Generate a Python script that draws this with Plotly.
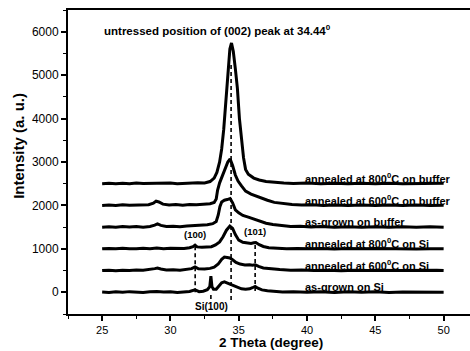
import plotly.graph_objects as go

# ---- data: (2-theta, plotted intensity incl. stacking offset) ----
as_grown_si = [(25, 5), (25.5, -5), (26, 10), (26.5, 0), (27, 15), (27.5, 5), (28, -5), (28.5, 10),
               (29, 20), (29.5, 5), (30, 10), (30.5, -5), (31, 10), (31.4, 20), (31.8, 55), (32.1, 15),
               (32.4, 25), (32.7, 60), (32.88, 130), (32.96, 370), (33.04, 130), (33.15, 70), (33.35, 70),
               (33.55, 150), (33.75, 220), (33.95, 240), (34.15, 215), (34.35, 185), (34.6, 150), (34.9, 110),
               (35.2, 80), (35.5, 70), (35.8, 80), (36.0, 105), (36.2, 135), (36.4, 95), (36.7, 55),
               (37.1, 35), (37.6, 20), (38.2, 5), (39, 15), (40, 0), (41, 10), (42, -5), (43, 10), (44, 0),
               (45, 10), (46, -5), (47, 5), (48, 0), (49, 10), (50, 0)]

annealed_600_si = [(25, 500), (25.5, 510), (26, 495), (26.5, 510), (27, 500), (27.5, 515), (28, 505),
                   (28.5, 520), (28.85, 545), (29.05, 560), (29.3, 535), (29.7, 515), (30.2, 520), (30.7, 505),
                   (31.2, 520), (31.55, 545), (31.8, 585), (32.05, 540), (32.5, 535), (32.9, 550), (33.2, 580),
                   (33.5, 650), (33.75, 760), (33.95, 810), (34.15, 800), (34.35, 790), (34.55, 750),
                   (34.8, 690), (35.1, 650), (35.45, 630), (35.8, 635), (36.0, 625), (36.2, 635), (36.45, 595),
                   (36.8, 560), (37.3, 540), (38, 525), (38.8, 510), (39.6, 515), (40.5, 500), (41.5, 510),
                   (42.5, 495), (43.5, 510), (44.5, 500), (45.5, 510), (46.5, 500), (47.5, 505), (48.5, 495),
                   (49.5, 505), (50, 500)]

annealed_800_si = [(25, 1000), (25.5, 1010), (26, 1000), (26.5, 1015), (27, 1005), (27.5, 1000), (28, 1015),
                   (28.5, 1005), (29, 1020), (29.5, 1005), (30, 1015), (30.5, 1005), (31, 1010), (31.4, 1025),
                   (31.65, 1050), (31.8, 1085), (31.95, 1045), (32.3, 1035), (32.7, 1040), (33.0, 1050),
                   (33.3, 1090), (33.6, 1160), (33.85, 1280), (34.1, 1430), (34.35, 1525), (34.55, 1470),
                   (34.75, 1330), (35.0, 1200), (35.3, 1150), (35.6, 1130), (35.9, 1125), (36.1, 1140),
                   (36.25, 1145), (36.5, 1095), (36.8, 1055), (37.2, 1025), (37.8, 1015), (38.5, 1000),
                   (39.3, 1010), (40.2, 1000), (41, 1010), (42, 995), (43, 1010), (44, 1000), (45, 1010),
                   (46, 1000), (47, 1005), (48, 995), (49, 1005), (50, 1000)]

as_grown_buffer = [(25, 1500), (25.5, 1510), (26, 1500), (26.5, 1515), (27, 1505), (27.5, 1515), (28, 1500),
                   (28.5, 1515), (28.85, 1545), (29.05, 1575), (29.3, 1540), (29.7, 1515), (30.2, 1520),
                   (30.7, 1510), (31.2, 1525), (31.7, 1530), (32.2, 1540), (32.7, 1555), (33.1, 1580),
                   (33.35, 1630), (33.5, 1780), (33.62, 1970), (33.75, 2080), (33.95, 2120), (34.15, 2135),
                   (34.37, 2160), (34.55, 2060), (34.75, 1900), (35.0, 1830), (35.3, 1770), (35.7, 1730),
                   (36.1, 1690), (36.5, 1640), (37.0, 1590), (37.5, 1560), (38.1, 1535), (38.8, 1515),
                   (39.5, 1520), (40.3, 1505), (41, 1515), (42, 1500), (43, 1510), (44, 1500), (45, 1510),
                   (46, 1500), (47, 1510), (48, 1500), (49, 1510), (50, 1500)]

annealed_600_buffer = [(25, 2000), (25.5, 2010), (26, 2000), (26.5, 2015), (27, 2005), (27.5, 2010),
                       (28, 2000), (28.4, 2015), (28.75, 2050), (28.95, 2100), (29.15, 2080), (29.45, 2030),
                       (29.9, 2010), (30.4, 2020), (30.9, 2005), (31.4, 2020), (31.9, 2015), (32.4, 2030),
                       (32.9, 2040), (33.2, 2070), (33.35, 2150), (33.45, 2350), (33.6, 2520), (33.8, 2680),
                       (34.0, 2850), (34.2, 3000), (34.37, 3070), (34.55, 2920), (34.75, 2700), (34.95, 2560),
                       (35.2, 2450), (35.5, 2330), (35.9, 2260), (36.3, 2210), (36.7, 2170), (37.1, 2120),
                       (37.6, 2070), (38.2, 2040), (38.9, 2020), (39.6, 2010), (40.4, 2015), (41.2, 2000),
                       (42, 2010), (43, 2000), (44, 2010), (45, 2000), (46, 2010), (47, 2000), (48, 2010),
                       (49, 2000), (50, 2005)]

annealed_800_buffer = [(25, 2500), (25.5, 2510), (26, 2500), (26.5, 2510), (27, 2500), (27.5, 2515),
                       (28, 2505), (28.5, 2510), (29, 2515), (29.5, 2505), (30, 2515), (30.5, 2500),
                       (31, 2510), (31.5, 2505), (32, 2520), (32.5, 2515), (32.9, 2550), (33.2, 2630),
                       (33.4, 2760), (33.6, 3000), (33.75, 3300), (33.9, 3750), (34.05, 4300), (34.2, 4950),
                       (34.35, 5600), (34.47, 5740), (34.6, 5550), (34.75, 5150), (34.9, 4700), (35.05, 4000),
                       (35.2, 3500), (35.35, 3100), (35.5, 2830), (35.7, 2720), (36.1, 2630), (36.5, 2585),
                       (37.0, 2550), (37.6, 2530), (38.3, 2515), (39, 2505), (40, 2515), (41, 2500),
                       (42, 2510), (43, 2500), (44, 2510), (45, 2500), (46, 2510), (47, 2500), (48, 2505),
                       (49, 2500), (50, 2510)]

series = [as_grown_si, annealed_600_si, annealed_800_si,
          as_grown_buffer, annealed_600_buffer, annealed_800_buffer]

series_labels = ["as-grown on Si", "annealed at 600<sup>0</sup>C on Si", "annealed at 800<sup>0</sup>C on Si",
                 "as-grown on buffer", "annealed at 600<sup>0</sup>C on buffer",
                 "annealed at 800<sup>0</sup>C on buffer"]
series_offsets = [0, 500, 1000, 1500, 2000, 2500]

# reference positions (2-theta) and their dashed-line extents
peak_002 = 34.44
peak_100 = 31.81
peak_101 = 36.2
peak_si = 32.96

x_ticks = [25, 30, 35, 40, 45, 50]
y_ticks = [0, 1000, 2000, 3000, 4000, 5000, 6000]

FONT = "Arial, Liberation Sans, sans-serif"

fig = go.Figure()

for data in series:
    fig.add_trace(go.Scatter(
        x=[p[0] for p in data], y=[p[1] for p in data],
        mode="lines", line=dict(color="black", width=3, shape="linear"),
        showlegend=False, hoverinfo="skip"))

dash_lines = [(peak_002, -180, 5300), (peak_100, 0, 1120), (peak_101, 30, 1150), (peak_si, -60, -230)]
for xv, y0, y1 in dash_lines:
    fig.add_trace(go.Scatter(
        x=[xv, xv], y=[y0, y1], mode="lines",
        line=dict(color="black", width=1.6, dash="4px,3px"),
        showlegend=False, hoverinfo="skip"))

annotations = []
for lab, off in zip(series_labels, series_offsets):
    annotations.append(dict(x=39.7, y=off + 130, xref="x", yref="y", text="<b>" + lab + "</b>",
                            showarrow=False, xanchor="left", yanchor="middle",
                            font=dict(family=FONT, size=11, color="black")))

annotations += [
    dict(x=25, y=6040, xref="x", yref="y",
         text="<b>untressed position of (002) peak at 34.44<sup>0</sup></b>",
         showarrow=False, xanchor="left", yanchor="middle",
         font=dict(family=FONT, size=11.5, color="black")),
    dict(x=peak_100, y=1340, xref="x", yref="y", text="<b>(100)</b>", showarrow=False,
         xanchor="center", yanchor="middle", font=dict(family=FONT, size=9.5, color="black")),
    dict(x=peak_101, y=1390, xref="x", yref="y", text="<b>(101)</b>", showarrow=False,
         xanchor="center", yanchor="middle", font=dict(family=FONT, size=9.5, color="black")),
    dict(x=33.0, y=-330, xref="x", yref="y", text="<b>Si(100)</b>", showarrow=False,
         xanchor="center", yanchor="middle", font=dict(family=FONT, size=10, color="black")),
    dict(x=-0.122, y=0.553, xref="paper", yref="paper", text="<b>Intensity (a. u.)</b>",
         showarrow=False, textangle=-90, xanchor="center", yanchor="middle",
         font=dict(family=FONT, size=15, color="black")),
    dict(x=0.505, y=-0.095, xref="paper", yref="paper", text="<b>2 Theta (degree)</b>",
         showarrow=False, xanchor="center", yanchor="middle", borderpad=0,
         font=dict(family=FONT, size=13.5, color="black")),
]

fig.update_layout(
    width=470, height=351,
    margin=dict(l=68, r=0, t=10, b=37, pad=0),
    paper_bgcolor="white", plot_bgcolor="white",
    annotations=annotations,
    xaxis=dict(range=[22.5, 51.93], tickvals=x_ticks, showgrid=False, zeroline=False,
               showline=True, linecolor="black", linewidth=2, mirror=True,
               ticks="outside", ticklen=5, tickwidth=1.5, tickcolor="black",
               minor=dict(dtick=2.5, tick0=0, ticks="outside", ticklen=3, tickwidth=1.2, tickcolor="black"),
               tickfont=dict(family=FONT, size=11, color="black")),
    yaxis=dict(range=[-500, 6500], tickvals=y_ticks, showgrid=False, zeroline=False,
               showline=True, linecolor="black", linewidth=2, mirror=False,
               ticks="outside", ticklen=5, tickwidth=1.5, tickcolor="black",
               minor=dict(dtick=500, tick0=0, ticks="outside", ticklen=3, tickwidth=1.2, tickcolor="black"),
               tickfont=dict(family=FONT, size=12, color="black")),
)

# remove the browser's default 8px body margin so the figure fills the window exactly
fig.write_html("out.html", config={"displayModeBar": False},
               post_script="document.body.style.margin='0';")
